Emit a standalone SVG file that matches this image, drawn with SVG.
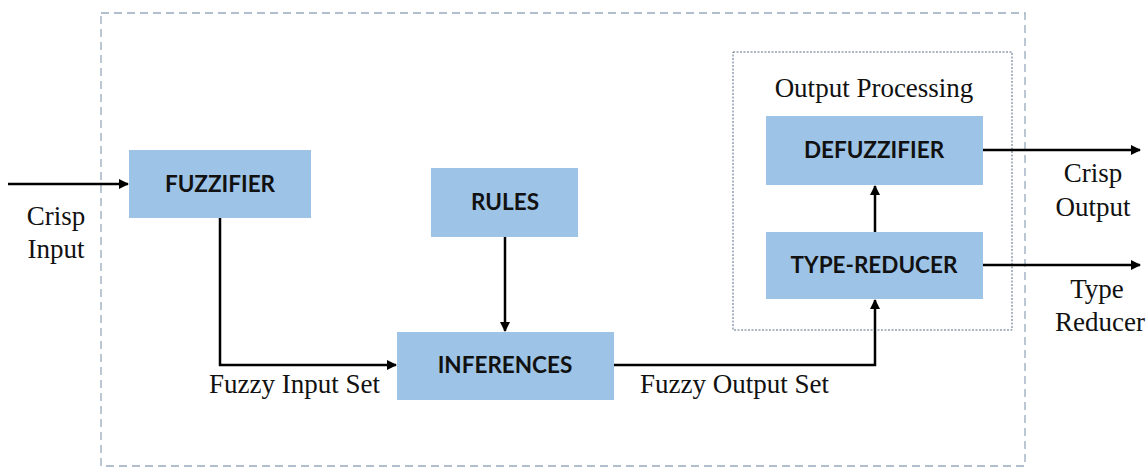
<svg xmlns="http://www.w3.org/2000/svg" width="1146" height="469" viewBox="0 0 1146 469">
<style>
.box{fill:#9dc3e6;}
.bt{font-family:Lato,"Open Sans",sans-serif;font-weight:bold;font-size:22.5px;fill:#111;text-anchor:middle;}
.lb{font-family:"Liberation Serif","Times New Roman",serif;font-size:27px;fill:#111;}
.c{text-anchor:middle;}
.ln{fill:none;stroke:#000;stroke-width:2.5;}
</style>
<defs>
<marker id="ah" markerWidth="10" markerHeight="10" refX="9" refY="5" orient="auto" markerUnits="userSpaceOnUse">
<path d="M0,0 L10,5 L0,10 z" fill="#000"/>
</marker>
</defs>
<rect x="101" y="13" width="924" height="453" fill="none" stroke="#98a9bd" stroke-width="1.3" stroke-dasharray="8,5"/>
<rect x="733" y="52" width="279" height="278" fill="none" stroke="#5a6e86" stroke-width="1" stroke-dasharray="2,1.5"/>
<g id="fuzzifier"><rect class="box" x="129" y="150" width="182" height="68"/><text class="bt" x="220" y="192">FUZZIFIER</text></g>
<g id="rules"><rect class="box" x="431" y="168" width="147" height="69"/><text class="bt" x="505" y="210">RULES</text></g>
<g id="inferences"><rect class="box" x="397" y="332" width="217" height="68"/><text class="bt" x="505" y="373">INFERENCES</text></g>
<g id="defuzzifier"><rect class="box" x="766" y="116" width="217" height="69"/><text class="bt" x="874" y="158">DEFUZZIFIER</text></g>
<g id="type-reducer"><rect class="box" x="766" y="232" width="217" height="67"/><text class="bt" x="874" y="273">TYPE-REDUCER</text></g>
<g id="output-processing"><text class="lb c" x="874" y="97">Output Processing</text></g>
<g id="connectors">
<path class="ln" d="M8,184 H128" marker-end="url(#ah)"/>
<path class="ln" d="M220,218 V365 H396" marker-end="url(#ah)"/>
<path class="ln" d="M505,237 V331" marker-end="url(#ah)"/>
<path class="ln" d="M614,365 H875 V300" marker-end="url(#ah)"/>
<path class="ln" d="M875,232 V186" marker-end="url(#ah)"/>
<path class="ln" d="M983,150 H1140" marker-end="url(#ah)"/>
<path class="ln" d="M983,265 H1140" marker-end="url(#ah)"/>
</g>
<g id="labels">
<text class="lb c" x="56" y="225">Crisp</text>
<text class="lb c" x="56" y="258">Input</text>
<text class="lb c" x="1093" y="182">Crisp</text>
<text class="lb c" x="1093" y="216">Output</text>
<text class="lb c" x="1097" y="298">Type</text>
<text class="lb c" x="1100" y="331">Reducer</text>
<text class="lb" x="209" y="393">Fuzzy Input Set</text>
<text class="lb" x="640" y="393">Fuzzy Output Set</text>
</g>
</svg>
